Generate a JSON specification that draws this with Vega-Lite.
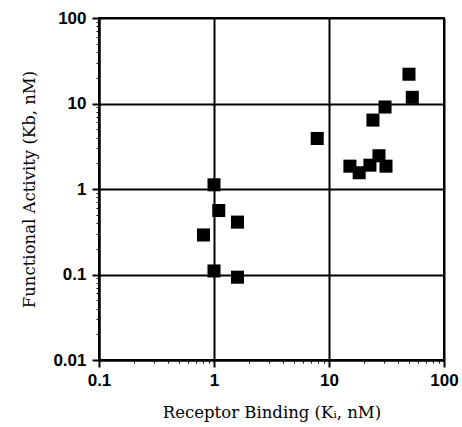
{
  "$schema": "https://vega.github.io/schema/vega-lite/v6.json",
  "autosize": "none",
  "width": 345,
  "height": 342,
  "padding": {"left": 99, "top": 18, "right": 18, "bottom": 67},
  "background": "white",
  "config": {
    "view": {"stroke": "black", "strokeWidth": 2},
    "axis": {
      "domainColor": "black",
      "domainWidth": 2,
      "tickColor": "black",
      "labelColor": "black",
      "titleColor": "black",
      "labelFont": "Liberation Sans",
      "labelFontSize": 17,
      "labelFontWeight": "bold",
      "titleFont": "DejaVu Serif",
      "titleFontSize": 16.5,
      "titleFontWeight": "normal",
      "gridColor": "black"
    }
  },
  "data": {
    "values": [
      {"ki": 0.81, "kb": 0.29},
      {"ki": 1.0, "kb": 1.12},
      {"ki": 1.1, "kb": 0.56},
      {"ki": 1.6, "kb": 0.41},
      {"ki": 1.0, "kb": 0.11},
      {"ki": 1.6, "kb": 0.093},
      {"ki": 7.9, "kb": 3.9},
      {"ki": 15.2, "kb": 1.85},
      {"ki": 18.3, "kb": 1.55},
      {"ki": 22.7, "kb": 1.9},
      {"ki": 27.2, "kb": 2.45},
      {"ki": 31.3, "kb": 1.85},
      {"ki": 24.1, "kb": 6.4},
      {"ki": 30.7, "kb": 9.1},
      {"ki": 49.6, "kb": 22},
      {"ki": 53, "kb": 11.8}
    ]
  },
  "mark": {"type": "square", "filled": true, "color": "black", "opacity": 1, "size": 170},
  "encoding": {
    "x": {
      "field": "ki",
      "type": "quantitative",
      "scale": {"type": "log", "domain": [0.1, 100], "nice": false},
      "axis": {
        "title": "Receptor Binding (Kᵢ, nM)",
        "titlePadding": 16,
        "values": [0.1,0.2,0.3,0.4,0.5,0.6,0.7,0.8,0.9,1,2,3,4,5,6,7,8,9,10,20,30,40,50,60,70,80,90,100],
        "labelExpr": "abs(log(datum.value)/LN10 - round(log(datum.value)/LN10)) < 1e-6 ? toString(datum.value) : ''",
        "labelPadding": 5,
        "labelFlush": false,
        "labelOverlap": false,
        "grid": true,
        "gridWidth": {"condition": {"test": "abs(log(datum.value)/LN10 - round(log(datum.value)/LN10)) < 1e-6", "value": 2}, "value": 0},
        "gridOpacity": {"condition": {"test": "abs(log(datum.value)/LN10 - round(log(datum.value)/LN10)) < 1e-6", "value": 1}, "value": 0},
        "tickSize": {"condition": {"test": "abs(log(datum.value)/LN10 - round(log(datum.value)/LN10)) < 1e-6", "value": 7}, "value": 3},
        "tickWidth": {"condition": {"test": "abs(log(datum.value)/LN10 - round(log(datum.value)/LN10)) < 1e-6", "value": 2}, "value": 1}
      }
    },
    "y": {
      "field": "kb",
      "type": "quantitative",
      "scale": {"type": "log", "domain": [0.01, 100], "nice": false},
      "axis": {
        "title": "Functional Activity (Kb, nM)",
        "titlePadding": 15,
        "values": [0.01,0.02,0.03,0.04,0.05,0.06,0.07,0.08,0.09,0.1,0.2,0.3,0.4,0.5,0.6,0.7,0.8,0.9,1,2,3,4,5,6,7,8,9,10,20,30,40,50,60,70,80,90,100],
        "labelExpr": "abs(log(datum.value)/LN10 - round(log(datum.value)/LN10)) < 1e-6 ? toString(datum.value) : ''",
        "labelPadding": 6,
        "labelFlush": false,
        "labelOverlap": false,
        "grid": true,
        "gridWidth": {"condition": {"test": "abs(log(datum.value)/LN10 - round(log(datum.value)/LN10)) < 1e-6", "value": 2}, "value": 0},
        "gridOpacity": {"condition": {"test": "abs(log(datum.value)/LN10 - round(log(datum.value)/LN10)) < 1e-6", "value": 1}, "value": 0},
        "tickSize": {"condition": {"test": "abs(log(datum.value)/LN10 - round(log(datum.value)/LN10)) < 1e-6", "value": 7}, "value": 3},
        "tickWidth": {"condition": {"test": "abs(log(datum.value)/LN10 - round(log(datum.value)/LN10)) < 1e-6", "value": 2}, "value": 1}
      }
    }
  }
}
